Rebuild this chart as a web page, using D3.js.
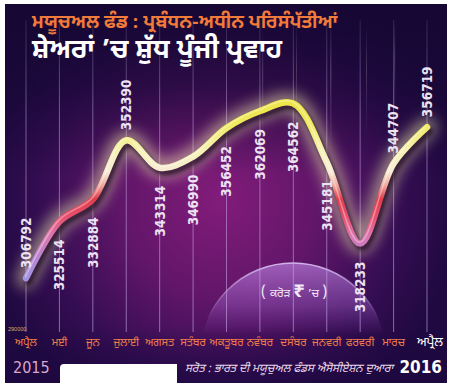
<!DOCTYPE html>
<html><head><meta charset="utf-8">
<script src="https://cdn.jsdelivr.net/npm/d3@7/dist/d3.min.js"></script>
<style>html,body{margin:0;padding:0;background:#fff;overflow:hidden}svg{display:block}</style>
</head><body>
<script>
// ---- data ----
const months = ["ਅਪ੍ਰੈਲ","ਮਈ","ਜੂਨ","ਜੁਲਾਈ","ਅਗਸਤ","ਸਤੰਬਰ","ਅਕਤੂਬਰ","ਨਵੰਬਰ","ਦਸੰਬਰ","ਜਨਵਰੀ","ਫਰਵਰੀ","ਮਾਰਚ","ਅਪ੍ਰੈਲ"];
const values = [306792,325514,332884,352390,343314,346990,356452,362069,364562,345181,318233,344707,356719];
const labelSide = ["above","below","below","above","below","below","below","below","below","below","below","above","above"];
const yTicks = [290000];
const title1 = "ਮਯੂਚਅਲ ਫੰਡ : ਪ੍ਰਬੰਧਨ-ਅਧੀਨ ਪਰਿਸੰਪੱਤੀਆਂ";
const title2 = "ਸ਼ੇਅਰਾਂ ’ਚ ਸ਼ੁੱਧ ਪੂੰਜੀ ਪ੍ਰਵਾਹ";
const unitParts = ["(", "ਕਰੋੜ", "₹", "’ਚ", ")"];
const yearStart = "2015", yearEnd = "2016";
const source = "ਸਰੋਤ : ਭਾਰਤ ਦੀ ਮਯੂਚੁਅਲ ਫੰਡਸ ਐਸੋਸੀਏਸ਼ਨ ਦੁਆਰਾ";

// ---- layout ----
const W = 452, H = 392;
const pan = {x:5, y:4, w:442, h:379};
const gur = "'Noto Sans Gurmukhi','Lohit Gurmukhi','Raavi','Noto Sans','DejaVu Sans',sans-serif";
const cond = "'DejaVu Sans Condensed','Liberation Sans Narrow','DejaVu Sans',sans-serif";

const svg = d3.select("body").append("svg").attr("width", W).attr("height", H);
const defs = svg.append("defs");

const x = d3.scalePoint().domain(d3.range(values.length)).range([26, 427]);
const y = d3.scaleLinear().domain([290000, 370000]).range([329, 87]);

// background gradients
const rg = defs.append("radialGradient").attr("id","bg").attr("gradientUnits","userSpaceOnUse")
  .attr("cx",220).attr("cy",200).attr("r",240);
[[0,"#821c7a"],[0.4,"#62166a"],[0.75,"#340d52"],[1,"#1f0940"]].forEach(s=>rg.append("stop").attr("offset",s[0]).attr("stop-color",s[1]));
const tg = defs.append("linearGradient").attr("id","topband").attr("x1",0).attr("x2",0).attr("y1",0).attr("y2",1);
tg.append("stop").attr("offset",0).attr("stop-color","#150733").attr("stop-opacity",0.95);
tg.append("stop").attr("offset",0.22).attr("stop-color","#150733").attr("stop-opacity",0.6);
tg.append("stop").attr("offset",0.45).attr("stop-color","#150733").attr("stop-opacity",0);
tg.append("stop").attr("offset",0.85).attr("stop-color","#1c0840").attr("stop-opacity",0);
tg.append("stop").attr("offset",1).attr("stop-color","#1c0840").attr("stop-opacity",0.7);

defs.append("clipPath").attr("id","panclip").append("rect")
  .attr("x",pan.x).attr("y",pan.y).attr("width",pan.w).attr("height",pan.h);

svg.append("rect").attr("x",pan.x).attr("y",pan.y).attr("width",pan.w).attr("height",pan.h).attr("fill","url(#bg)");
svg.append("rect").attr("x",pan.x).attr("y",pan.y).attr("width",pan.w).attr("height",pan.h).attr("fill","url(#topband)");

const g = svg.append("g").attr("clip-path","url(#panclip)");

// light beams upper right
const bm = defs.append("linearGradient").attr("id","beam").attr("x1",0).attr("x2",0).attr("y1",0).attr("y2",1);
bm.append("stop").attr("offset",0).attr("stop-color","#fff").attr("stop-opacity",0);
bm.append("stop").attr("offset",0.4).attr("stop-color","#fff").attr("stop-opacity",0.18);
bm.append("stop").attr("offset",1).attr("stop-color","#fff").attr("stop-opacity",0);
[[262,1.2,30,110],[296,1,20,120],[330,1.5,15,140],[366,1,25,110],[394,1.2,18,100]].forEach(b=>{
  g.append("rect").attr("x",b[0]).attr("width",b[1]).attr("y",b[2]).attr("height",b[3]).attr("fill","url(#beam)");
});

// half-disc
const dg = defs.append("linearGradient").attr("id","disc").attr("gradientUnits","userSpaceOnUse")
  .attr("x1",0).attr("x2",0).attr("y1",262).attr("y2",335);
dg.append("stop").attr("offset",0).attr("stop-color","#b880dc").attr("stop-opacity",0.7);
dg.append("stop").attr("offset",0.6).attr("stop-color","#a060c8").attr("stop-opacity",0.4);
dg.append("stop").attr("offset",1).attr("stop-color","#8a4ab0").attr("stop-opacity",0);
g.append("circle").attr("cx",293).attr("cy",356).attr("r",93).attr("fill","url(#disc)");
const rim = defs.append("linearGradient").attr("id","rim").attr("gradientUnits","userSpaceOnUse")
  .attr("x1",0).attr("x2",0).attr("y1",262).attr("y2",320);
rim.append("stop").attr("offset",0).attr("stop-color","#dcc0f4").attr("stop-opacity",0.9);
rim.append("stop").attr("offset",1).attr("stop-color","#dcc0f4").attr("stop-opacity",0);
g.append("circle").attr("cx",293).attr("cy",356).attr("r",93).attr("fill","none").attr("stroke","url(#rim)").attr("stroke-width",1.6);

// grid lines
const gl = defs.append("linearGradient").attr("id","grid").attr("gradientUnits","userSpaceOnUse")
  .attr("x1",0).attr("x2",0).attr("y1",20).attr("y2",332);
gl.append("stop").attr("offset",0).attr("stop-color","#c8a8e8").attr("stop-opacity",0.15);
gl.append("stop").attr("offset",0.3).attr("stop-color","#c8a8e8").attr("stop-opacity",0.5);
gl.append("stop").attr("offset",1).attr("stop-color","#c8a8e8").attr("stop-opacity",0.6);
g.selectAll("line.grid").data(values).join("line").attr("class","grid")
  .attr("x1",(d,i)=>x(i)).attr("x2",(d,i)=>x(i)).attr("y1",20).attr("y2",332)
  .attr("stroke","url(#grid)").attr("stroke-width",1);

// line gradient by value
const lg = defs.append("linearGradient").attr("id","lineGrad").attr("gradientUnits","userSpaceOnUse")
  .attr("x1",0).attr("x2",0).attr("y1",y(370000)).attr("y2",y(300000));
const stopsByValue = [[370000,"#ece23a"],[358000,"#f0ea5c"],[349000,"#f6f2b4"],[342000,"#f8ecd6"],[337500,"#f0a89c"],[333000,"#e23c4c"],[327000,"#e8506e"],[321000,"#de74ac"],[314000,"#b884d0"],[306000,"#a094e4"],[300000,"#9c90e6"]];
stopsByValue.forEach(s=>lg.append("stop")
  .attr("offset",(y(s[0])-y(370000))/(y(300000)-y(370000))).attr("stop-color",s[1]));

const f1 = defs.append("filter").attr("id","glow").attr("x","-20%").attr("y","-40%").attr("width","140%").attr("height","180%");
f1.append("feGaussianBlur").attr("stdDeviation",7);
const f2 = defs.append("filter").attr("id","shadow").attr("x","-20%").attr("y","-40%").attr("width","140%").attr("height","180%");
f2.append("feGaussianBlur").attr("stdDeviation",2.2);

const line = d3.line().x((d,i)=>x(i)).y(d=>y(d)).curve(d3.curveCatmullRom.alpha(0.5));
const pd = line(values);

g.append("path").attr("d",pd).attr("fill","none").attr("stroke","#f4eeb0").attr("stroke-width",20)
  .attr("stroke-linecap","round").attr("opacity",0.5).attr("filter","url(#glow)");
g.append("path").attr("d",pd).attr("fill","none").attr("stroke","#12041c").attr("stroke-width",7)
  .attr("stroke-linecap","round").attr("opacity",0.75).attr("filter","url(#shadow)").attr("transform","translate(2.5,4)");
g.append("path").attr("d",pd).attr("fill","none").attr("stroke","url(#lineGrad)").attr("stroke-width",6.5)
  .attr("stroke-linecap","round");
g.append("path").attr("d",pd).attr("fill","none").attr("stroke","#ffffff").attr("stroke-width",1.6)
  .attr("stroke-linecap","round").attr("opacity",0.35).attr("transform","translate(-0.6,-1.4)");

// value labels
g.selectAll("text.val").data(values).join("text").attr("class","val")
  .attr("transform",(d,i)=>{
    const yy = labelSide[i]==="above" ? y(d)-10 : y(d)+18;
    return `translate(${x(i)},${yy}) rotate(-90)`;
  })
  .attr("text-anchor",(d,i)=>labelSide[i]==="above"?"start":"end")
  .attr("dy","0.36em")
  .attr("font-family",cond).attr("font-weight","bold").attr("font-size",13.5)
  .attr("fill","#ece2f2").text(d=>d);

// y min tick
g.selectAll("text.ytick").data(yTicks).join("text").attr("class","ytick")
  .attr("x",8).attr("y",d=>y(d)+2).attr("font-family","'Liberation Sans',sans-serif")
  .attr("font-size",5.5).attr("fill","#d8aa62").text(d=>d);

// month labels
g.selectAll("text.mon").data(months).join("text").attr("class","mon")
  .attr("x",(d,i)=>x(i)+ (i===months.length-1?3:0)).attr("y",346)
  .attr("text-anchor","middle").attr("font-family",gur)
  .attr("font-size",(d,i)=>i===months.length-1?13:11)
  .attr("fill",(d,i)=>i===months.length-1?"#ffffff":"#f27e48").text(d=>d);

// unit label
const ut = g.append("text").attr("x",294).attr("y",297).attr("text-anchor","middle")
  .attr("font-family",gur).attr("fill","#f2e8f6").attr("font-size",11.5);
ut.append("tspan").attr("font-size",15).text(unitParts[0]+" ");
ut.append("tspan").text(unitParts[1]+" ");
ut.append("tspan").attr("font-size",20).attr("font-weight","bold").text(unitParts[2]);
ut.append("tspan").text(" "+unitParts[3]+" ");
ut.append("tspan").attr("font-size",15).text(unitParts[4]);

// titles
g.append("text").attr("x",32).attr("y",28).attr("font-family",gur).attr("font-weight","bold")
  .attr("font-size",18.5).attr("fill","#f27a3a").text(title1);
g.append("text").attr("x",32).attr("y",58).attr("font-family",gur).attr("font-weight","bold")
  .attr("font-size",26.5).attr("fill","#ffffff").text(title2);

// years & source
g.append("text").attr("x",13).attr("y",373).attr("font-family",cond).attr("font-size",16)
  .attr("fill","#d9a6cc").text(yearStart);
g.append("text").attr("x",442).attr("y",373).attr("text-anchor","end").attr("font-family",cond)
  .attr("font-weight","bold").attr("font-size",17).attr("fill","#ffffff").text(yearEnd);
g.append("text").attr("x",185).attr("y",372).attr("font-family",gur).attr("font-style","italic")
  .attr("font-size",11.5).attr("textLength",208).attr("lengthAdjust","spacingAndGlyphs")
  .attr("fill","#e6d8ea").text(source);

// white box at bottom
svg.append("path").attr("d","M60,392 L60,368 Q60,364 64,364 L177,364 L177,392 Z").attr("fill","#ffffff");
</script>
</body></html>
